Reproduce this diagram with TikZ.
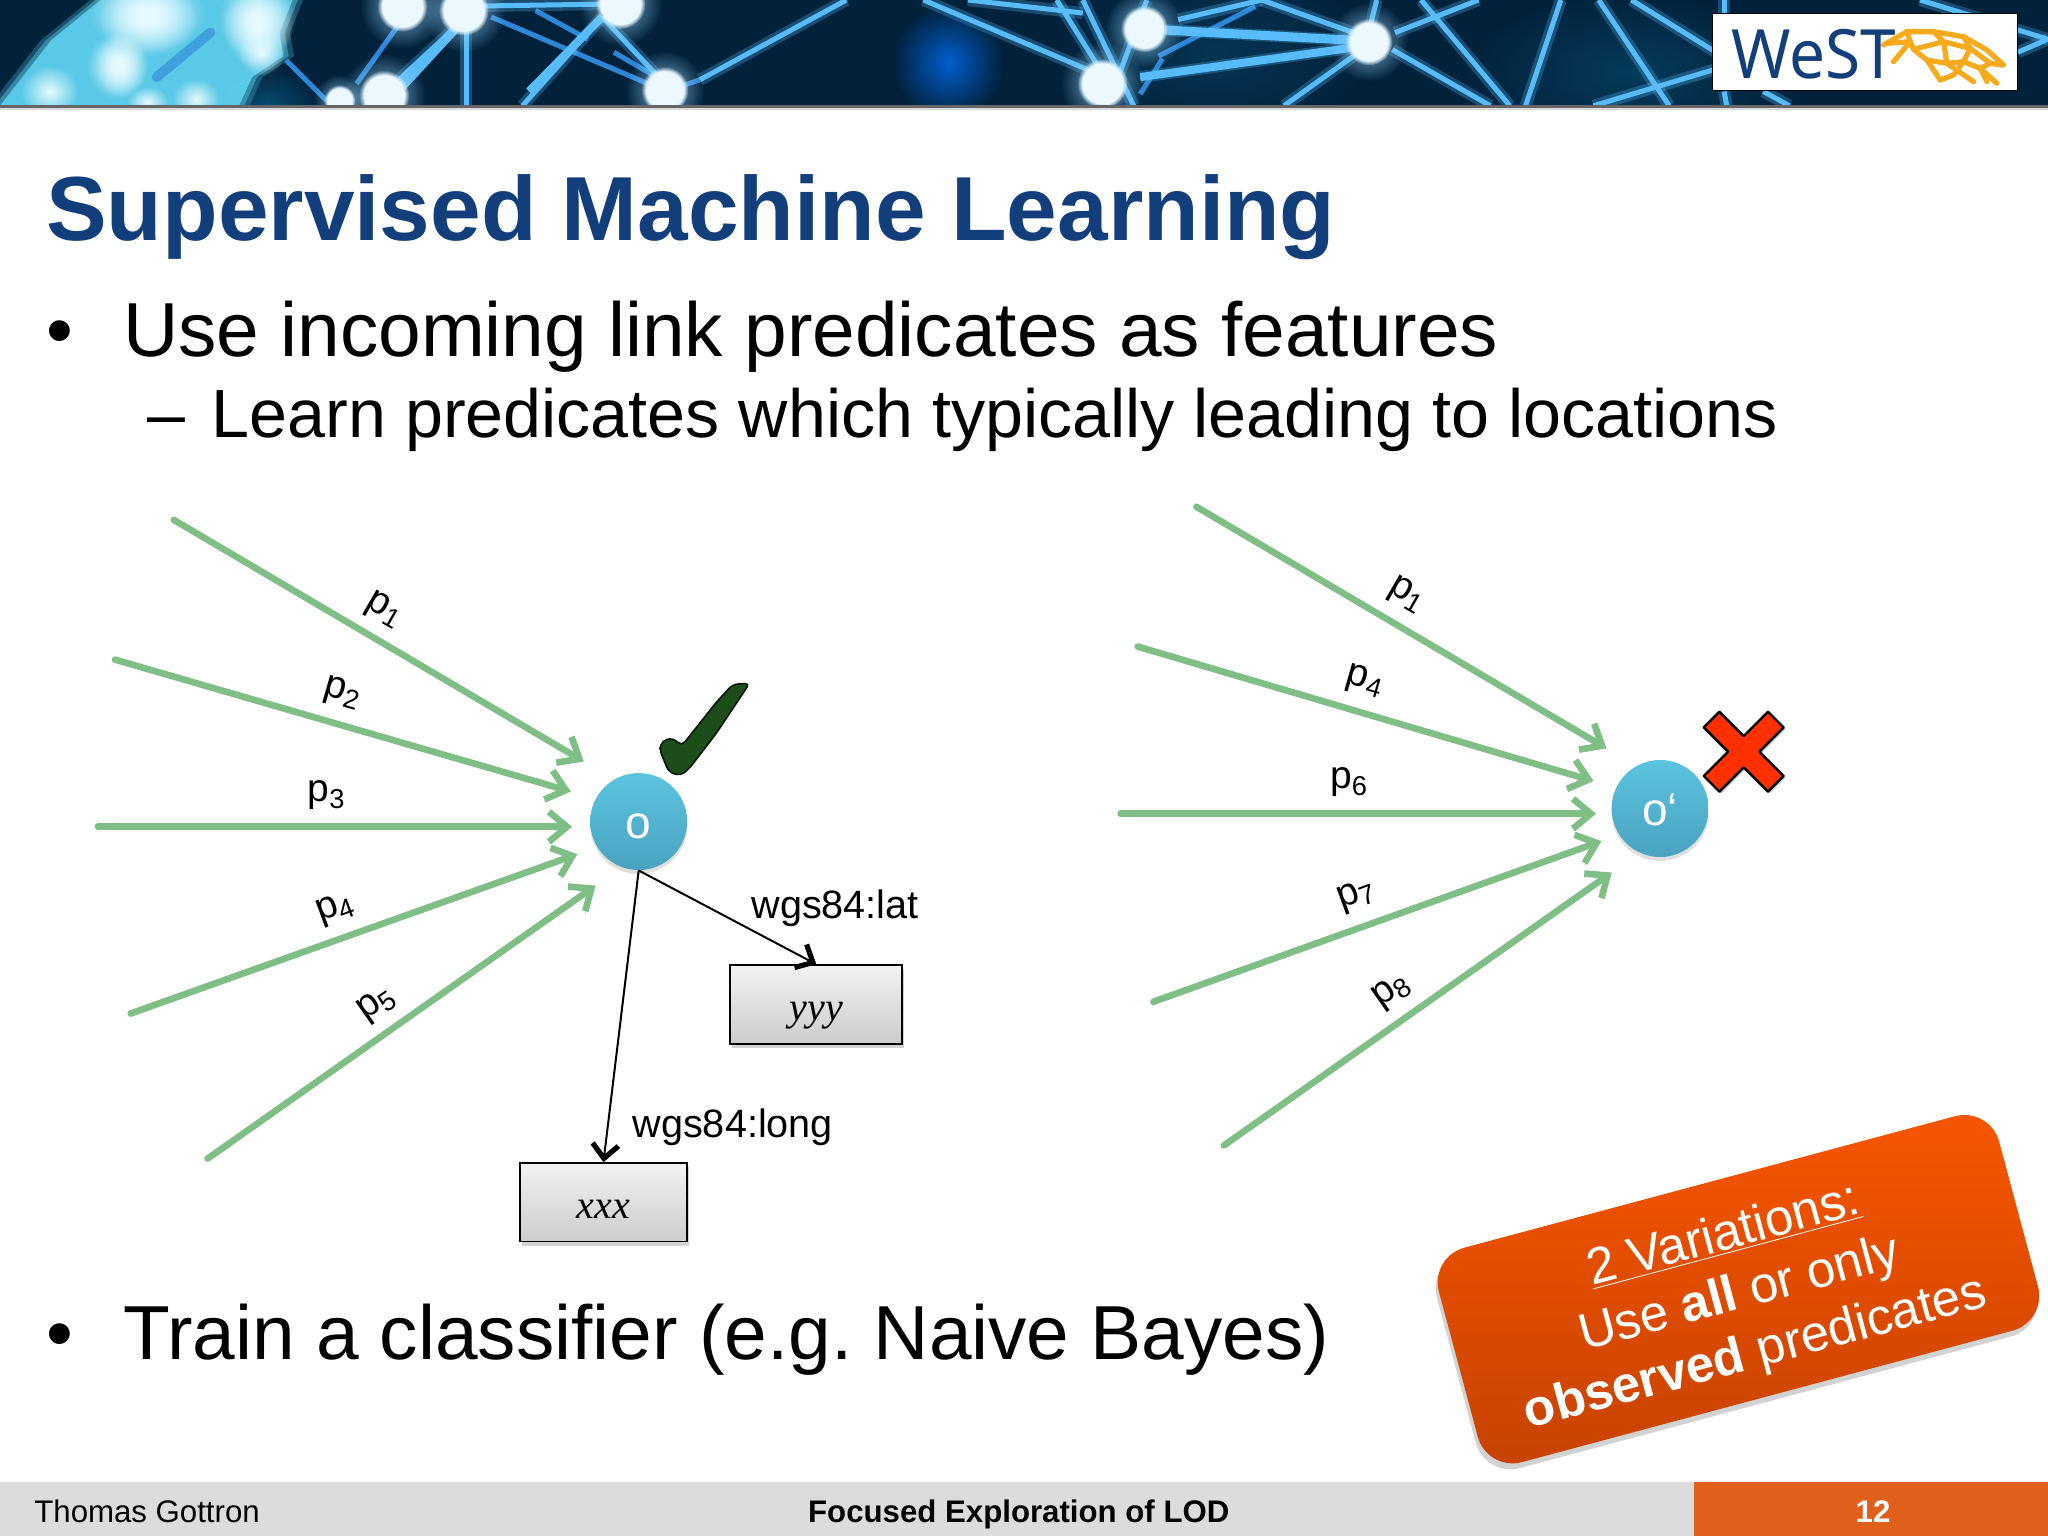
\documentclass[tikz,border=0pt]{standalone}
\usepackage{fontspec}
\setmainfont{Liberation Sans}
\newfontfamily\serifit{Liberation Serif}
\newfontfamily\logofont{Noto Sans}
\usetikzlibrary{shadows,arrows.meta,calc,fadings}
\definecolor{navy}{HTML}{02223C}
\definecolor{glow}{HTML}{58BCFA}
\definecolor{glowdim}{HTML}{2D87D8}
\definecolor{titleblue}{HTML}{123F7C}
\definecolor{arrowgreen}{HTML}{7FBF85}
\definecolor{nodetop}{HTML}{5BC4DF}
\definecolor{nodebot}{HTML}{49A2C0}
\definecolor{footgray}{HTML}{DCDCDE}
\definecolor{footorange}{HTML}{E05F1B}
\definecolor{checkgreen}{HTML}{1E4D1C}
\definecolor{crossred}{HTML}{FF3000}
\definecolor{webgold}{HTML}{F7AA1C}
\definecolor{calltop}{HTML}{F85600}
\definecolor{callbot}{HTML}{C64200}
\definecolor{glare}{HTML}{62DAF8}
\definecolor{glarewhite}{HTML}{E8FBFF}
\definecolor{teal}{HTML}{0A5A80}
\tikzfading[name=softblob,inner color=transparent!0,outer color=transparent!100]
\tikzset{
  net/.style={glow,line width=2.5pt},
  netdim/.style={glowdim,line width=2.5pt},
  netsoft/.style={glow,line width=6pt,opacity=.28},
  greenarrow/.style={arrowgreen,line width=3.3pt,line cap=round,-{Straight Barb[length=9pt,width=15pt,line width=3.3pt]},
    preaction={draw=black,opacity=.18,transform canvas={yshift=-1.2pt}}},
  blackarrow/.style={black,line width=1pt,-{Straight Barb[length=7pt,width=13pt,line width=2.6pt]}},
  ball/.style={circle,minimum size=48.5pt,inner sep=0pt,top color=nodetop,bottom color=nodebot,text=white,font=\fontsize{23}{26}\selectfont,drop shadow={opacity=.25,shadow xshift=0pt,shadow yshift=-2pt}},
  valbox/.style={rectangle,draw=black,line width=.9pt,top color=white!90!gray,bottom color=gray!40,inner sep=0pt,minimum height=39.2pt,drop shadow={opacity=.35,shadow xshift=1pt,shadow yshift=-2pt},font=\serifit\itshape\fontsize{20}{24}\selectfont},
  plabel/.style={font=\fontsize{19.5}{23}\selectfont,inner sep=0pt},
  edgelabel/.style={font=\fontsize{19.8}{24}\selectfont,inner sep=0pt,anchor=base west},
  bodytext/.style={inner sep=0pt,anchor=base west,font=\fontsize{38.3}{44}\selectfont},
  subtext/.style={inner sep=0pt,anchor=base west,font=\fontsize{34.1}{40}\selectfont},
  foottext/.style={inner sep=0pt,font=\fontsize{15.6}{18}\selectfont},
  boldfoot/.style={inner sep=0pt,anchor=base,font=\bfseries\fontsize{15.6}{18}\selectfont},
  web/.style={webgold,line width=2.6pt,line cap=round,line join=round},
  softdisc/.style={path fading=circle with fuzzy edge 20 percent},
  softer/.style={path fading=softblob}
}
\begin{document}
\begin{tikzpicture}[x=0.653061pt,y=-0.653061pt]
\useasboundingbox (0,0) rectangle (1568,1176);
\fill[white] (0,0) rectangle (1568,1176);
% banner
\begin{scope}
\clip (0,0) rectangle (1568,81);
\fill[navy] (0,0) rectangle (1568,81);
\fill[teal,opacity=.45,softer] (1250,55) ellipse ({130} and {60});
\fill[teal,opacity=.35,softer] (930,40) ellipse ({120} and {70});
\fill[teal,opacity=.8,softer] (205,82) ellipse ({40} and {32});
\fill[blue!55!cyan,opacity=.75,softer] (726,48) ellipse ({42} and {44});
% broad glare at left, soft edges built from layers
\foreach \e/\o in {10/.25, 6/.4, 2/.8}
 {\fill[glare,opacity=\o] (2-\e,81) -- (41-\e,31) -- (79-\e,0) -- (222+\e,0) -- (212+\e,25) -- (215+\e,43) -- (191+\e,59) -- (181+\e,81) -- cycle;}
\draw[glowdim,line width=5pt,opacity=.6,line cap=round] (161,25) -- (120,59);
\foreach \x/\y/\rx/\ry in {113/14/38/30, 197/20/27/32, 92/50/20/24, 38/70/22/20, 113/78/16/12, 150/76/18/16, 200/40/18/18, 113/10/45/30, 197/14/30/30, 90/50/24/26}
 {\fill[glarewhite,softer] (\x,\y) ellipse ({\rx} and {\ry});}
% lines
\foreach \a/\b/\c/\d in {219/46/250/77, 273/64/308/15, 376/13/496/64, 410/8/450/30, 470/40/506/61,
  536/61/510/70, 887/43/961/5, 873/72/890/45}
 {\draw[netdim] (\a,\b) -- (\c,\d);}
\foreach \a/\b/\c/\d in {300/66/355/15, 357/15/357/81, 400/81/461/13, 342/5/472/3, 461/13/506/61, 536/61/648/0,
  707/0/839/56, 809/0/844/56, 829/0/868/81, 878/0/848/81, 741/0/829/10, 902/15/966/0, 892/23/1039/31, 873/59/1039/36,
  966/0/1039/26, 1054/0/1049/20, 1039/41/983/81, 1068/25/1132/0, 1088/0/1156/81, 1066/38/1141/81,
  1195/0/1168/81, 1224/0/1278/81, 1249/0/1330/50, 1220/81/1330/48, 1320/70/1322/81, 1350/70/1370/81, 1320/0/1320/15,
  1470/0/1568/30, 1545/40/1568/30}
 {\draw[netsoft] (\a,\b) -- (\c,\d); \draw[net] (\a,\b) -- (\c,\d);}
\draw[line width=4.5pt,glow] (892,23) -- (1039,31);
\draw[line width=4pt,glow] (873,59) -- (1039,36);
\draw[line width=4.5pt,glow] (308,66) -- (355,15);
\draw[line width=4pt,glow] (405,70) -- (461,13);
% glowing junctions
\foreach \x/\y/\r in {876/22/15, 1048/32/15, 844/64/16, 509/69/15, 475/3/16, 308/5/16, 355/8/16, 294/73/16, 260/77/10}
 {\fill[glow!60!white,opacity=.8,softer] (\x,\y) circle ({\r*2});
  \fill[white!92!cyan,softdisc] (\x,\y) circle ({\r*1.2});}
\end{scope}
\fill[black!60] (0,80.5) rectangle (1568,82.5);
\fill[black!15] (0,82.5) rectangle (1568,84);
% logo
\node[draw=black,line width=.7pt,fill=white,minimum width=152.5pt,minimum height=38.5pt,inner sep=0pt] (logobox) at (1428,40) {};
\node[inner sep=0pt,anchor=base west,text=titleblue,font=\logofont\fontsize{34}{40}\selectfont] (logotext) at (1325,60) {\scalebox{.94}[1]{WeST}};
\begin{scope}[shift={(1286.4,0)},scale=.2552]
\draw[web] (610,135) -- (680,95) -- (760,95) -- (850,110) -- (920,150) -- (970,195);
\draw[web] (620,130) -- (690,125) -- (640,185);
\draw[web] (690,125) -- (700,148) -- (740,180) -- (780,240);
\draw[web] (700,148) -- (790,125) -- (870,145) -- (930,190) -- (965,195);
\draw[web] (740,180) -- (800,190) -- (850,185) -- (820,225) -- (780,240);
\draw[web] (790,125) -- (800,190) -- (880,245);
\draw[web] (850,185) -- (900,205) -- (950,250);
\draw[web] (870,145) -- (850,185); \draw[web] (900,205) -- (930,190);
\draw[web] (900,205) -- (920,245); \draw[web] (760,95) -- (790,125); \draw[web] (680,95) -- (690,125);
\draw[web] (850,110) -- (870,145);
\end{scope}
% text
\node[inner sep=0pt,anchor=base west,text=titleblue,font=\bfseries\fontsize{45.5}{54}\selectfont] (title) at (35,184) {Supervised Machine Learning};
\node[bodytext] (b1) at (35,273) {•};
\node[bodytext] (b1t) at (94,273) {Use incoming link predicates as features};
\node[subtext] (b2) at (113,335) {–};
\node[subtext] (b2t) at (162,335) {Learn predicates which typically leading to locations};
\node[bodytext] (b3) at (35,1041) {•};
\node[bodytext] (b3t) at (94,1041) {\frenchspacing Train a classifier (e.g. Naive Bayes)};
% nodes
\node[ball] (o) at (489,629) {\raisebox{-8.5pt}[0pt][0pt]{o}};
\node[ball] (op) at (1271,619) {\raisebox{-8.5pt}[0pt][0pt]{o‘}};
\node[valbox,minimum width=86pt] (yyy) at (625,769) {\raisebox{-8pt}[0pt][0pt]{yyy}};
\node[valbox,minimum width=83.6pt] (xxx) at (462,920.5) {\raisebox{-8pt}[0pt][0pt]{xxx}};
% green arrows
\foreach \n/\ax/\ay/\bx/\by in {a/133/398/447/583, b/88/505/437/606, c/75/633/438/633, d/100/776/442/654, e/159/887/456/678,
  f/916/388/1230/573, g/871/495/1220/598, h/858/623/1222/623, i/883/767/1226/644, j/937/877/1234/668}
 {\coordinate (\n s) at (\ax,\ay); \coordinate (\n t) at (\bx,\by); \draw[greenarrow] (\n s) -- (\n t);}
\draw[blackarrow] (o.south) -- (xxx.north);
\draw[blackarrow] (o.south) -- (yyy.north);
% labels
\node[plabel,rotate=-30] (lp1) at (294,467) {p\textsubscript{1}};
\node[plabel,rotate=-16] (lp2) at (262,531) {p\textsubscript{2}};
\node[plabel] (lp3) at (250,609) {p\textsubscript{3}};
\node[plabel,rotate=20] (lp4) at (257,696) {p\textsubscript{4}};
\node[plabel,rotate=35] (lp5) at (289,769) {p\textsubscript{5}};
\node[plabel,rotate=-30] (rp1) at (1077,456) {p\textsubscript{1}};
\node[plabel,rotate=-16] (rp4) at (1045,522) {p\textsubscript{4}};
\node[plabel] (rp6) at (1033,599) {p\textsubscript{6}};
\node[plabel,rotate=20] (rp7) at (1039,686) {p\textsubscript{7}};
\node[plabel,rotate=35] (rp8) at (1066,759) {p\textsubscript{8}};
\node[edgelabel] (lat) at (575,703) {wgs84:lat};
\node[edgelabel] (long) at (484,871) {wgs84:long};
% check
\filldraw[fill=checkgreen,draw=black!70!checkgreen,line width=.8pt,rounded corners=2.5pt] (574,523) -- (561,524) -- (549,537) -- (522,571) -- (515,565) -- (507,567) -- (505,574) -- (512,591) -- (521,594) -- (528,588) -- (548,562) -- cycle;
% cross
\begin{scope}[shift={(1335,575.5)}]
\filldraw[fill=crossred,draw=black,line width=1.2pt,line join=round,drop shadow={opacity=.3,shadow xshift=1pt,shadow yshift=-1pt}] (-18.6,-30.6) -- (0,-12) -- (18.6,-30.6) -- (30.6,-18.6) -- (12,0) -- (30.6,18.6) -- (18.6,30.6) -- (0,12) -- (-18.6,30.6) -- (-30.6,18.6) -- (-12,0) -- (-30.6,-18.6) -- cycle;
\end{scope}
% callout
\node[rotate=15,rounded corners=18pt,minimum width=290pt,minimum height=111pt,inner sep=0pt,top color=calltop,bottom color=callbot,drop shadow={opacity=.35,shadow xshift=-1pt,shadow yshift=-3pt}] (callout) at (1331,987) {};
\node[rotate=15,inner sep=0pt,text=white,align=center,font=\fontsize{25.5}{30.5}\selectfont] (calltext) at ($(callout)+(1,5)$) {\underline{2 Variations:}\\Use \textbf{all} or only\\\textbf{observed} predicates};
% footer
\fill[footgray] (0,1135) rectangle (1297,1176);
\fill[footorange] (1297,1135) rectangle (1568,1176);
\node[foottext,anchor=base west] (fa) at (26,1166) {Thomas Gottron};
\node[boldfoot] (fb) at (780,1166) {Focused Exploration of LOD};
\node[boldfoot,text=white] (fc) at (1434,1166) {12};
\end{tikzpicture}
\end{document}
